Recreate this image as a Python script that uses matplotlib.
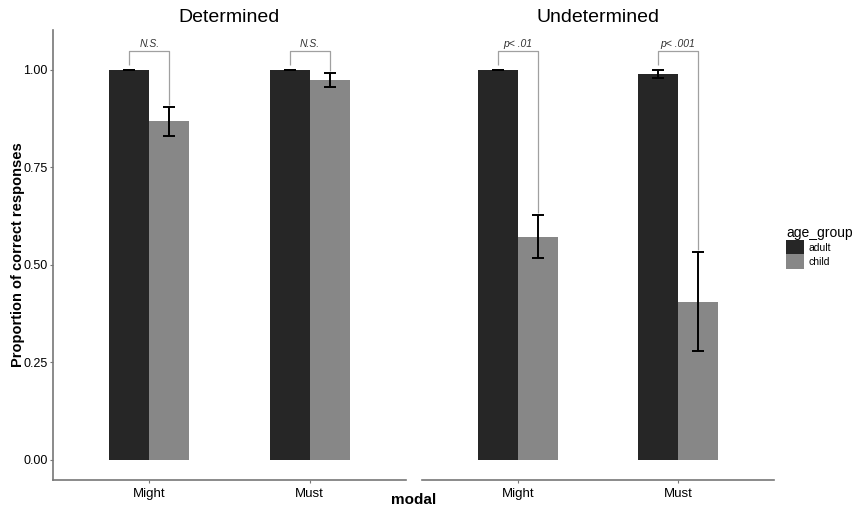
import matplotlib
matplotlib.use("Agg")
import matplotlib.pyplot as plt
from matplotlib.patches import Patch
import numpy as np

plt.rcParams['font.family'] = ['Liberation Sans', 'DejaVu Sans']

panels = ["Determined", "Undetermined"]
modals = ["Might", "Must"]
groups = ["adult", "child"]
colors = {"adult": "#262626", "child": "#878787"}

adult_means = {"Determined": [1.0, 1.0], "Undetermined": [1.0, 0.99]}
child_means = {"Determined": [0.868, 0.975], "Undetermined": [0.572, 0.405]}
adult_err = {"Determined": [0.0, 0.0], "Undetermined": [0.0, 0.01]}
child_err = {"Determined": [0.038, 0.018], "Undetermined": [0.055, 0.127]}
sig_labels = {"Determined": ["N.S.", "N.S."], "Undetermined": ["p< .01", "p< .001"]}
bracket_top = 1.05

fig = plt.figure(figsize=(8.59, 5.17), dpi=100)
W, H = 859, 517
ax_bounds = [(53, 406), (422, 774)]
top_px, bot_px = 30, 480
axes = []
for (x0, x1) in ax_bounds:
    ax = fig.add_axes([x0 / W, 1 - bot_px / H, (x1 - x0) / W, (bot_px - top_px) / H])
    axes.append(ax)

bw = 0.25
x = np.arange(len(modals))
for i, (ax, p) in enumerate(zip(axes, panels)):
    am = adult_means[p]; cm = child_means[p]
    ax.bar(x - bw / 2, am, width=bw, color=colors["adult"], edgecolor="none")
    ax.bar(x + bw / 2, cm, width=bw, color=colors["child"], edgecolor="none")
    ax.errorbar(x - bw / 2, am, yerr=adult_err[p], fmt="none", ecolor="black",
                elinewidth=1.4, capsize=4, capthick=1.4)
    ax.errorbar(x + bw / 2, cm, yerr=child_err[p], fmt="none", ecolor="black",
                elinewidth=1.4, capsize=4, capthick=1.4)
    for j in range(len(modals)):
        xa = x[j] - bw / 2
        xc = x[j] + bw / 2
        ya = am[j] + adult_err[p][j] + 0.012
        yc = cm[j] + child_err[p][j] + 0.005
        ax.plot([xa, xa, xc, xc], [ya, bracket_top, bracket_top, yc],
                color="#a0a0a0", lw=0.9, solid_capstyle="butt")
        ax.text((xa + xc) / 2, bracket_top + 0.003, sig_labels[p][j],
                ha="center", va="bottom", fontsize=7.5, style="italic", color="#333333")
    ax.set_xlim(-0.6, 1.6)
    ax.set_ylim(-0.052, 1.1026)
    ax.set_xticks(x)
    ax.set_xticklabels(modals, fontsize=9.5)
    ax.set_title(p, fontsize=14, pad=6)
    for s in ["top", "right"]:
        ax.spines[s].set_visible(False)
    ax.spines["bottom"].set_color("#777777")
    ax.spines["bottom"].set_linewidth(1.2)
    ax.tick_params(axis="x", length=2.5, color="#777777", pad=3)
    if i == 0:
        ax.spines["left"].set_color("#777777")
        ax.spines["left"].set_linewidth(1.2)
        ax.set_yticks([0, 0.25, 0.5, 0.75, 1.0])
        ax.set_yticklabels(["0.00", "0.25", "0.50", "0.75", "1.00"], fontsize=9)
        ax.tick_params(axis="y", length=2.5, color="#777777", pad=1.5)
        ax.set_ylabel("Proportion of correct responses", fontsize=10.5, fontweight="bold")
        ax.yaxis.set_label_coords((25 - 53) / 353, 0.5)
    else:
        ax.spines["left"].set_visible(False)
        ax.set_yticks([])

fig.text((ax_bounds[0][0] + ax_bounds[1][1]) / 2 / W, 1 - 500 / H, "modal",
         ha="center", va="center", fontsize=11, fontweight="bold")

handles = [Patch(facecolor=colors[g], edgecolor="none", label=g) for g in groups]
leg = fig.legend(handles=handles, title="age_group", loc="upper left",
                 bbox_to_anchor=(784 / W, 1 - 224 / H), frameon=False,
                 fontsize=7.5, title_fontsize=10, handlelength=1.75, handleheight=1.75,
                 handletextpad=0.4, labelspacing=0.0, borderaxespad=0, borderpad=0.2)
leg._legend_box.align = "left"

fig.savefig("out.png", dpi=100)
